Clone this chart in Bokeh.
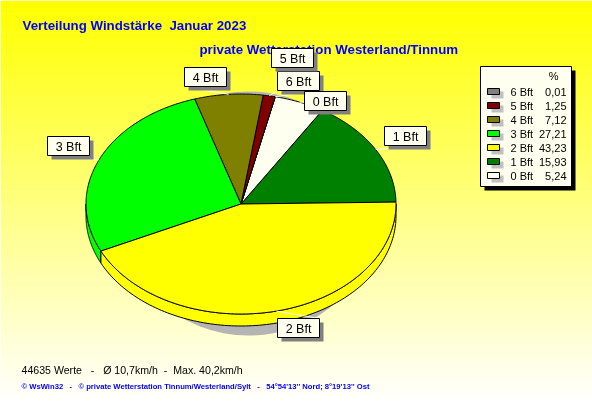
import numpy as np
from bokeh.plotting import figure
from bokeh.models import Range1d
from bokeh.core.properties import value
from bokeh.embed import file_html
from bokeh.resources import INLINE

# ---- data (legend order)
categories = ["6 Bft", "5 Bft", "4 Bft", "3 Bft", "2 Bft", "1 Bft", "0 Bft"]
percent = [0.01, 1.25, 7.12, 27.21, 43.23, 15.93, 5.24]
percent_text = ["0,01", "1,25", "7,12", "27,21", "43,23", "15,93", "5,24"]
pie_order = [5, 6, 0, 1, 2, 3, 4]

NB = "\u00a0"
title_1 = f"Verteilung Windstärke{NB}{NB}Januar 2023"
title_2 = "private Wetterstation Westerland/Tinnum"
footer_1 = f"44635 Werte{NB}{NB}{NB}-{NB}{NB}{NB}Ø 10,7km/h{NB}{NB}-{NB}{NB}Max. 40,2km/h"
footer_2 = f"© WsWin32{NB}{NB}{NB}-{NB}{NB}{NB}© private Wetterstation Tinnum/Westerland/Sylt{NB}{NB}{NB}-{NB}{NB}{NB}54°54'13'' Nord; 8°19'13'' Ost"

# ---- styles / layout
colors = ["#808080", "#800000", "#808000", "#00FF00", "#FFFF00", "#008000", "#FFFFF0"]
W, H = 592, 407
CX, CY, RX, RY, DEPTH = 240.5, 203.5, 155, 110, 12
START = 1.0
SANS = value("Liberation Sans")
# label boxes: left, top (keyed by category)
label_box = {"6 Bft": (277, 71), "5 Bft": (271, 48), "4 Bft": (184, 67), "3 Bft": (47, 136),
             "2 Bft": (277, 318), "1 Bft": (384, 126), "0 Bft": (304, 91)}
BW, BH = 42, 19

p = figure(width=W, height=H, output_backend="svg", toolbar_location=None,
           x_range=Range1d(0, W), y_range=Range1d(H, 0), min_border=0,
           outline_line_color=None, border_fill_color="#FFFFFF", background_fill_color="#FFFFFF")
p.axis.visible = False
p.grid.visible = False
p.styles = {"position": "fixed", "left": "0", "top": "0"}

# gradient background, yellow to white
edges = np.linspace(0, H, 65)
shade = np.round(np.linspace(0, 255, 64)).astype(int)
p.quad(left=0, right=W, top=edges[:-1], bottom=edges[1:] + 0.5,
       fill_color=["#FFFF%02X" % s for s in shade], line_color=None)

def ell(deg, dy=0.0):
    a = np.radians(deg)
    return CX + RX * np.cos(a), CY - RY * np.sin(a) + dy

# shadow behind the pie
p.ellipse(x=248, y=213, width=256, height=244, fill_color="#B4B4B4", line_color=None)

# angles of each slice, counter-clockwise from START
total = sum(percent)
angles = {}
a0 = START
for i in pie_order:
    a1 = a0 + percent[i] / total * 360
    angles[i] = (a0, a1)
    a0 = a1

# side wall
for i in pie_order:
    lo, hi = angles[i]
    lo2, hi2 = max(lo, 180), min(hi, 360)
    if hi2 <= lo2:
        continue
    t = np.linspace(lo2, hi2, 120)
    xt, yt = ell(t)
    xb, yb = ell(t, DEPTH)
    p.patch(np.r_[xt, xb[::-1]], np.r_[yt, yb[::-1]], fill_color=colors[i],
            line_color="#000000", line_width=1)

# top face
for i in pie_order:
    lo, hi = angles[i]
    t = np.linspace(lo, hi, max(3, int((hi - lo) * 2)))
    xt, yt = ell(t)
    p.patch(np.r_[CX, xt], np.r_[CY, yt], fill_color=colors[i],
            line_color="#000000", line_width=1)

# titles (subtitle sits under labels)
BOLD = value("Liberation Sans")
p.text(x=[22], y=[25], text=[title_1], text_color="#0000FF", text_font=BOLD,
       text_font_style="bold", text_font_size="13.3px", text_baseline="middle")
p.text(x=[199], y=[49], text=[title_2], text_color="#0000FF", text_font=BOLD,
       text_font_style="bold", text_font_size="13.3px", text_baseline="middle")

# leader lines + label boxes
for i, c in enumerate(categories):
    lo, hi = angles[i]
    lx, ly = label_box[c]
    ex, ey = ell((lo + hi) / 2)
    bx = np.clip(ex, lx + 2, lx + BW - 2)
    by = ly + BH if ey > ly + BH else (ly if ey < ly else ey)
    if ex > lx + BW:
        bx = lx
    if ex < lx:
        bx = lx + BW
    p.line([ex, bx], [ey, by], line_color="#FFFFF0", line_width=1)

for c in categories:
    lx, ly = label_box[c]
    p.quad(left=lx + 4, right=lx + BW + 4, top=ly + 4, bottom=ly + BH + 4,
           fill_color="#808080", line_color=None)
    p.quad(left=lx, right=lx + BW, top=ly, bottom=ly + BH,
           fill_color="#FFFFF0", line_color="#000000", line_width=1)
    p.text(x=[lx + BW / 2], y=[ly + BH / 2 + 0.5], text=[c], text_color="#000000", text_font=SANS,
           text_font_size="12.5px", text_align="center", text_baseline="middle")

# legend
LX0, LX1, LY0, LY1 = 480, 571, 66, 186
p.quad(left=LX0 + 4, right=LX1 + 4, top=LY0 + 4, bottom=LY1 + 4, fill_color="#000000", line_color=None)
p.quad(left=LX0, right=LX1, top=LY0, bottom=LY1, fill_color="#FFFFF0", line_color="#000000", line_width=1)
p.text(x=[558], y=[75], text=["%"], text_color="#000000", text_font=SANS, text_font_size="11px",
       text_align="right", text_baseline="middle")
for k, c in enumerate(categories):
    y = 91 + 14 * k
    p.quad(left=491, right=503, top=y, bottom=y + 7, fill_color="#C0C0C0", line_color=None)
    p.quad(left=487, right=499, top=y - 3, bottom=y + 3, fill_color=colors[k], line_color="#000000", line_width=1)
    p.text(x=[510], y=[y + 0.5], text=[c], text_color="#000000", text_font=SANS, text_font_size="11px",
           text_baseline="middle")
    p.text(x=[566], y=[y + 0.5], text=[percent_text[k]], text_color="#000000", text_font=SANS,
           text_font_size="11px", text_align="right", text_baseline="middle")

# footers
p.text(x=[21], y=[369], text=[footer_1], text_color="#000000", text_font=SANS, text_font_size="10.6px",
       text_baseline="middle")
p.text(x=[21], y=[386], text=[footer_2], text_color="#0000FF", text_font=SANS,
       text_font_size="7.65px", text_font_style="bold", text_baseline="middle")

open("out.html", "w").write(file_html(p, INLINE))
